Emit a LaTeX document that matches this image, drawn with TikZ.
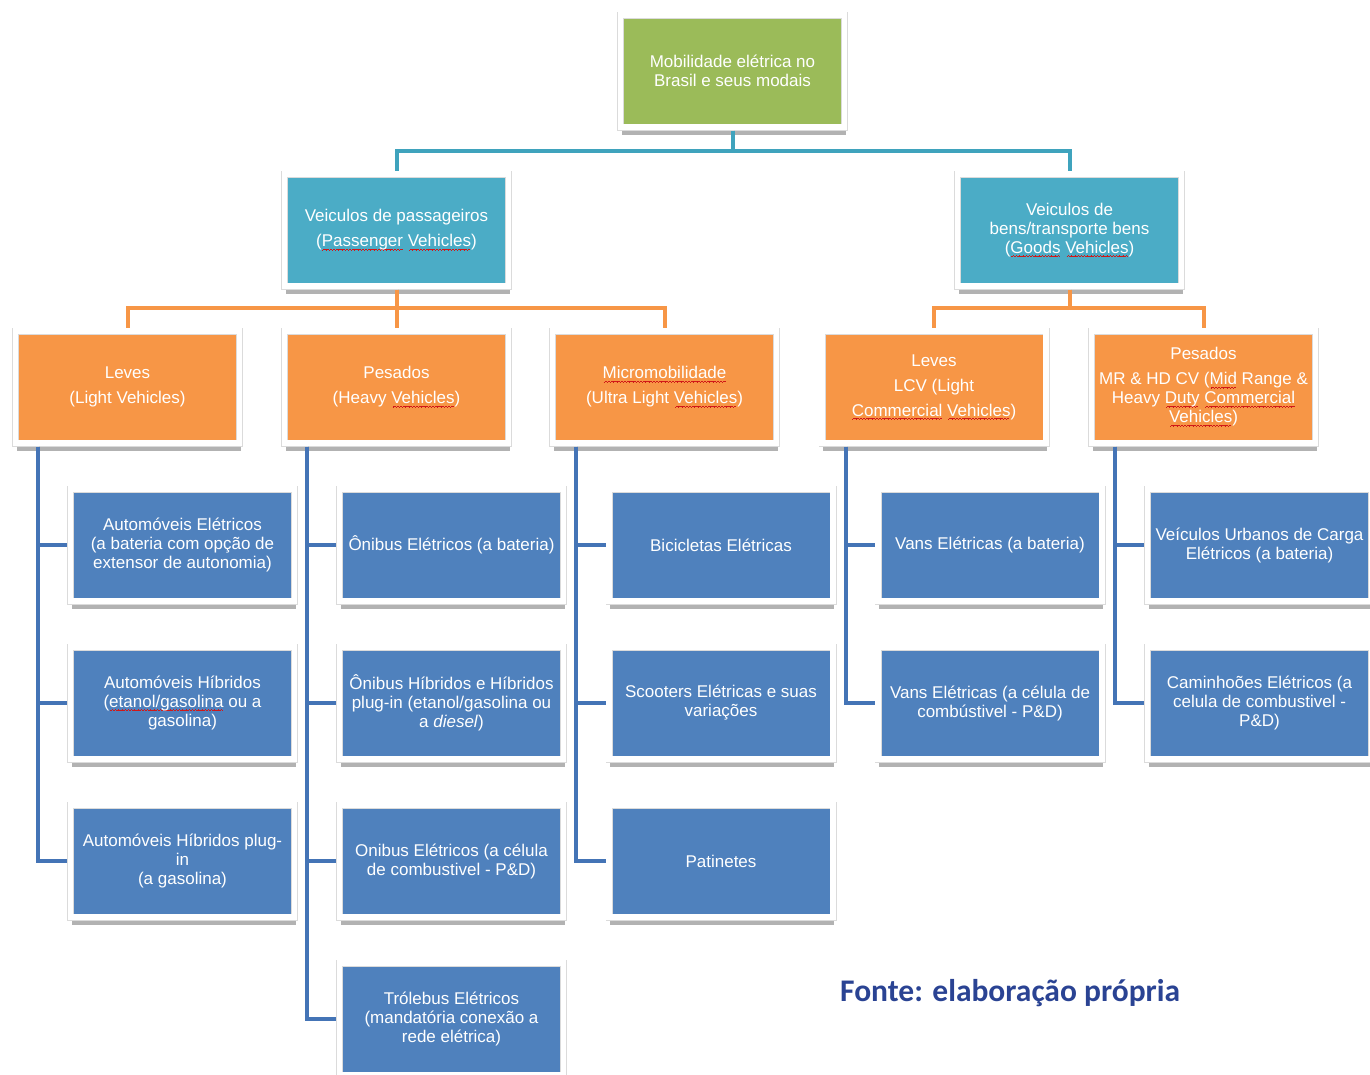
\documentclass[tikz,border=0pt]{standalone}
\usepackage{fontspec}
\setmainfont{Liberation Sans}
\newfontfamily\fontefont{Carlito}
\usetikzlibrary{shadows}

\definecolor{verde}{HTML}{9BBB59}
\definecolor{turkis}{HTML}{4BACC6}
\definecolor{laranja}{HTML}{F79646}
\definecolor{azul}{HTML}{4F81BD}
\definecolor{linhaturkis}{HTML}{3FA3BD}
\definecolor{linhaazul}{HTML}{4474B6}
\definecolor{fonteazul}{HTML}{2A4393}
\definecolor{welle}{HTML}{D01818}

% Rechtschreibwelle unter Woertern
\newsavebox{\wellbox}
\newcommand{\wellenstueck}{\hbox{\rule[0pt]{0.8pt}{0.7pt}\rule[0.6pt]{0.8pt}{0.7pt}%
	\rule[1.2pt]{0.8pt}{0.7pt}\rule[0.6pt]{0.8pt}{0.7pt}}}
\newcommand{\spl}[1]{\sbox{\wellbox}{#1}\leavevmode
	\rlap{\lower3.5pt\hbox to\wd\wellbox{\color{welle}\cleaders\wellenstueck\hfill}}\usebox{\wellbox}}

\tikzset{
	kasten/.style={draw=black!14, double=white, line width=0.6pt,
		double distance=5.8pt, outer sep=3.5pt, minimum width=224pt,
		minimum height=112pt, inner sep=0pt, align=center, text=white,
		font=\fontsize{17}{19}\selectfont,
		drop shadow={shadow xshift=1pt, shadow yshift=-7.5pt, opacity=0.3, fill=black}},
	kastenverde/.style={kasten, fill=verde},
	kastenturkis/.style={kasten, fill=turkis},
	kastenlaranja/.style={kasten, fill=laranja},
	kastenazul/.style={kasten, fill=azul},
	linkturkis/.style={draw=linhaturkis, line width=4pt},
	linklaranja/.style={draw=laranja, line width=4pt},
	linkazul/.style={draw=linhaazul, line width=4pt}
}

\begin{document}
\begin{tikzpicture}[x=1pt, y=-1pt]
	\useasboundingbox (0,0) rectangle (1370,1074);

	% Wurzel
	\node[kastenverde] (root) at (732.5,71) {Mobilidade elétrica no\\Brasil e seus modais};

	% Zweite Ebene
	\node[kastenturkis] (pass) at (396.5,230) {Veiculos de passageiros\\[6pt](\spl{Passenger} \spl{Vehicles})};
	\node[kastenturkis] (goods) at (1069.5,230) {Veiculos de\\bens/transporte bens\\(\spl{Goods} \spl{Vehicles})};

	% Dritte Ebene
	\node[kastenlaranja] (lvP) at (127.5,387) {Leves\\[6pt](Light Vehicles)};
	\node[kastenlaranja] (psP) at (396.5,387) {Pesados\\[6pt](Heavy \spl{Vehicles})};
	\node[kastenlaranja] (mcP) at (664.5,387) {\spl{Micromobilidade}\\[6pt](Ultra Light \spl{Vehicles})};
	\node[kastenlaranja] (lvG) at (934,387) {Leves\\[6pt]LCV (Light\\[6pt]\spl{Commercial} \spl{Vehicles})};
	\node[kastenlaranja] (psG) at (1203.5,387) {Pesados\\[6pt]MR \& HD CV (\spl{Mid} Range \&\\Heavy \spl{Duty} \spl{Commercial}\\\spl{Vehicles})};

	% Modais
	\node[kastenazul] (a1) at (182.5,545) {Automóveis Elétricos\\(a bateria com opção de\\extensor de autonomia)};
	\node[kastenazul] (a2) at (182.5,703) {Automóveis Híbridos\\(\spl{etanol/gasolina} ou a\\gasolina)};
	\node[kastenazul] (a3) at (182.5,861) {Automóveis Híbridos plug-\\in\\(a gasolina)};

	\node[kastenazul] (b1) at (451.5,545) {Ônibus Elétricos (a bateria)};
	\node[kastenazul] (b2) at (451.5,703) {Ônibus Híbridos e Híbridos\\plug-in (etanol/gasolina ou\\a \textit{diesel})};
	\node[kastenazul] (b3) at (451.5,861) {Onibus Elétricos (a célula\\de combustivel - P\&D)};
	\node[kastenazul] (b4) at (451.5,1019) {Trólebus Elétricos\\(mandatória conexão a\\rede elétrica)};

	\node[kastenazul] (c1) at (721,545) {Bicicletas Elétricas};
	\node[kastenazul] (c2) at (721,703) {Scooters Elétricas e suas\\variações};
	\node[kastenazul] (c3) at (721,861) {Patinetes};

	\node[kastenazul] (d1) at (990,545) {Vans Elétricas (a bateria)};
	\node[kastenazul] (d2) at (990,703) {Vans Elétricas (a célula de\\combústivel - P\&D)};

	\node[kastenazul] (e1) at (1259.5,545) {Veículos Urbanos de Carga\\Elétricos (a bateria)};
	\node[kastenazul] (e2) at (1259.5,703) {Caminhoões Elétricos (a\\celula de combustivel -\\P\&D)};

	% Verbindungen
	\draw[linkturkis] (root.south) -- ++(0,20) -| (pass.north);
	\draw[linkturkis] (root.south) -- ++(0,20) -| (goods.north);

	\foreach \kind in {lvP,psP,mcP}
		\draw[linklaranja] (pass.south) -- ++(0,18) -| (\kind.north);
	\foreach \kind in {lvG,psG}
		\draw[linklaranja] (goods.south) -- ++(0,18) -| (\kind.north);

	\foreach \kind in {a1,a2,a3}
		\draw[linkazul] ([xshift=26pt]lvP.south west) |- (\kind.west);
	\foreach \kind in {b1,b2,b3,b4}
		\draw[linkazul] ([xshift=26pt]psP.south west) |- (\kind.west);
	\foreach \kind in {c1,c2,c3}
		\draw[linkazul] ([xshift=27pt]mcP.south west) |- (\kind.west);
	\foreach \kind in {d1,d2}
		\draw[linkazul] ([xshift=27pt]lvG.south west) |- (\kind.west);
	\foreach \kind in {e1,e2}
		\draw[linkazul] ([xshift=27pt]psG.south west) |- (\kind.west);

	% Quelle
	\node[anchor=base west, inner sep=0pt, text=fonteazul,
		font=\fontefont\bfseries\fontsize{31.5}{36}\selectfont] (fonte) at (840,1001) {Fonte: elaboração própria};
\end{tikzpicture}
\end{document}
